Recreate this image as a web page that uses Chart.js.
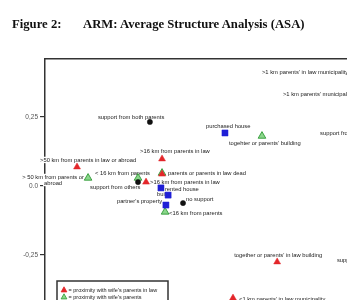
<!DOCTYPE html>
<html>
<head>
<meta charset="utf-8">
<script src="https://cdn.jsdelivr.net/npm/chart.js@4.4.0/dist/chart.umd.min.js"></script>
<style>
  html, body { margin: 0; padding: 0; background: #ffffff; overflow: hidden; }
  #wrap { position: relative; width: 347px; height: 300px; }
  #title { position: absolute; left: 12px; top: 18px; font-family: "Liberation Serif", "Times New Roman", serif; font-weight: bold; font-size: 12.7px; color: #111; white-space: pre; line-height: 1; }
  #title .t2 { position: absolute; left: 71px; top: 0; }
  canvas { position: absolute; left: 0; top: 0; }
</style>
</head>
<body>
<div id="wrap">
  <canvas id="c" width="347" height="300"></canvas>
  <div id="title"><span>Figure 2:</span><span class="t2">ARM: Average Structure Analysis (ASA)</span></div>
</div>
<script>
// ---- Data (dimension 1 = x, dimension 2 = y) ----
const yTickValues = [-0.25, 0, 0.25];
const yTickLabels = ['-0,25', '0.0', '0,25'];

const seriesNames = [
  "proximity with wife's parents in law",
  "proximity with wife's parents",
  "housing",
  "support"
];

// proximity with wife's parents in law (red triangles)
const inLawLabels = [">50 km from parents in law or abroad", ">16 km from parents in law", ">16 km from parents in law",
  "parents or parents in law dead", "together or parents' in law building", "<1 km parents' in law municipality",
  ">1 km parents' in law municipality"];
const inLawX = [-0.384, -0.076, -0.134, -0.076, 0.341, 0.181, 0.659];
const inLawY = [0.069, 0.098, 0.014, 0.043, -0.275, -0.406, 0.395];

// proximity with wife's parents (green triangles)
const parentsLabels = ["togehter or parents' building", "> 50 km from parents or\nabroad", "< 16 km from parents",
  "parents or parents in law dead", "<16 km from parents", ">1 km parents' municipality"];
const parentsX = [0.286, -0.344, -0.163, -0.076, -0.065, 0.659];
const parentsY = [0.181, 0.029, 0.029, 0.047, -0.094, 0.312];

// housing (blue squares)
const housingLabels = ["purchased house", "rented house", "built", "partner's property"];
const housingX = [0.152, -0.080, -0.054, -0.062];
const housingY = [0.192, -0.007, -0.033, -0.069];

// support (black dots)
const supportLabels = ["support from both parents", "support from others", "no support",
  "support from parents in law", "support from parents"];
const supportX = [-0.120, -0.163, 0.0, 0.685, 0.746];
const supportY = [0.232, 0.014, -0.062, 0.174, -0.286];

// ---- Label placement (pixel offsets from the marker: dx, dy, align); null = no label ----
const inLawLabelPos = [[-37, -7, 'left'], [-22, -8, 'left'], [4, 0, 'left'], null, [-43, -7, 'left'], [6, 1, 'left'], [-103, -5, 'left']];
const parentsLabelPos = [[-33, 7, 'left'], [-35, -1, 'center'], [-43, -5, 'left'], [6, 0, 'left'], [4, 1, 'left'], [-82, -5, 'left']];
const housingLabelPos = [[-19, -7, 'left'], [4, 1, 'left'], [-11, -1, 'left'], [-49, -4, 'left']];
const supportLabelPos = [[-52, -5, 'left'], [-48, 5, 'left'], [3, -4, 'left'], [-52, -5, 'left'], [-52, -5, 'left']];

const toPoints = (xs, ys) => xs.map((x, i) => ({ x: x, y: ys[i] }));

const LABEL_FONT = '5.8px "Liberation Sans", Arial, sans-serif';

const labelPlugin = {
  id: 'pointLabels',
  beforeDatasetsDraw(chart) {
    const ctx = chart.ctx;
    ctx.save();
    ctx.font = LABEL_FONT;
    ctx.textBaseline = 'middle';
    chart.data.datasets.forEach((ds, di) => {
      const meta = chart.getDatasetMeta(di);
      ds.pointLabels.forEach((txt, i) => {
        const pos = ds.labelPos[i];
        if (!pos) return;
        const el = meta.data[i];
        const lines = txt.split('\n');
        lines.forEach((line, li) => {
          const w = ctx.measureText(line).width;
          let x = el.x + pos[0];
          const y = el.y + pos[1] + li * 6;
          if (pos[2] === 'center') x = x - w / 2;
          ctx.fillStyle = '#ffffff';
          ctx.fillRect(x - 1, y - 3.2, w + 2, 6.4);
          ctx.fillStyle = '#1a1a1a';
          ctx.textAlign = 'left';
          ctx.fillText(line, x, y);
        });
      });
    });
    ctx.restore();
  }
};

function drawMarker(ctx, ds, x, y, s) {
  ctx.save();
  ctx.fillStyle = ds.pointBackgroundColor;
  ctx.strokeStyle = ds.pointBorderColor;
  ctx.lineWidth = 0.8;
  ctx.beginPath();
  if (ds.pointStyle === 'triangle') {
    ctx.moveTo(x, y - s);
    ctx.lineTo(x + s * 0.9, y + s * 0.6);
    ctx.lineTo(x - s * 0.9, y + s * 0.6);
    ctx.closePath();
  } else if (ds.pointStyle === 'rect') {
    ctx.rect(x - s * 0.7, y - s * 0.7, s * 1.4, s * 1.4);
  } else {
    ctx.arc(x, y, s * 0.6, 0, Math.PI * 2);
  }
  ctx.fill();
  ctx.stroke();
  ctx.restore();
}

const legendBoxPlugin = {
  id: 'legendBox',
  afterDraw(chart) {
    const ctx = chart.ctx;
    const left = 57, top = 281, right = 168;
    ctx.save();
    ctx.fillStyle = '#ffffff';
    ctx.fillRect(left, top, right - left, 40);
    ctx.strokeStyle = '#333333';
    ctx.lineWidth = 1.5;
    ctx.strokeRect(left, top, right - left, 40);
    ctx.font = '5.5px "Liberation Sans", Arial, sans-serif';
    ctx.textBaseline = 'middle';
    ctx.textAlign = 'left';
    chart.data.datasets.forEach((ds, i) => {
      if (ds.legendHidden) return;
      const y = top + 9 + ds.legendRow * 7;
      drawMarker(ctx, ds, 64, y, 3.2);
      ctx.fillStyle = '#1a1a1a';
      ctx.fillText('= ' + ds.label, 68.5, y);
    });
    ctx.restore();
  }
};

const RED = '#e3262a', GREEN_FILL = '#8ad68a', GREEN_LINE = '#2f9a36', BLUE = '#1f1fd6', BLACK = '#111111';

const datasets = [
  { label: seriesNames[1], data: toPoints(parentsX, parentsY), pointLabels: parentsLabels, labelPos: parentsLabelPos,
    pointStyle: 'triangle', pointRadius: 4.4, pointBackgroundColor: GREEN_FILL, pointBorderColor: GREEN_LINE, pointBorderWidth: 0.9, legendRow: 1, order: 3 },
  { label: seriesNames[0], data: toPoints(inLawX, inLawY), pointLabels: inLawLabels, labelPos: inLawLabelPos,
    pointStyle: 'triangle', pointRadius: 4, pointBackgroundColor: RED, pointBorderColor: RED, pointBorderWidth: 0.5, legendRow: 0, order: 2 },
  { label: seriesNames[2], data: toPoints(housingX, housingY), pointLabels: housingLabels, labelPos: housingLabelPos,
    pointStyle: 'rect', pointRadius: 4.3, pointBackgroundColor: BLUE, pointBorderColor: BLUE, pointBorderWidth: 0.5, legendRow: 2, order: 1 },
  { label: seriesNames[3], data: toPoints(supportX, supportY), pointLabels: supportLabels, labelPos: supportLabelPos,
    pointStyle: 'circle', pointRadius: 2.6, pointBackgroundColor: BLACK, pointBorderColor: BLACK, pointBorderWidth: 0.5, legendRow: 3, order: 0 }
];
datasets.forEach(d => { d.clip = false; d.pointHoverRadius = d.pointRadius; d.showLine = false; });

function zeroPad(s) { s.paddingTop = 0; s.paddingBottom = 0; s.paddingLeft = 0; s.paddingRight = 0; }

new Chart(document.getElementById('c'), {
  type: 'scatter',
  data: { datasets: datasets },
  options: {
    responsive: false,
    animation: false,
    events: [],
    layout: { padding: 0, autoPadding: false },
    plugins: { legend: { display: false }, tooltip: { enabled: false }, title: { display: false } },
    scales: {
      x: {
        type: 'linear', position: 'top', min: -0.5, max: 0.594,
        ticks: { display: false },
        grid: { display: false },
        border: { display: true, color: '#333333', width: 1.5 },
        afterFit(s) { s.height = 59; zeroPad(s); }
      },
      y: {
        type: 'linear', position: 'left', min: -0.413, max: 0.46,
        afterBuildTicks(s) { s.ticks = yTickValues.map(v => ({ value: v })); },
        ticks: {
          callback(v) { const i = yTickValues.indexOf(v); return i >= 0 ? yTickLabels[i] : ''; },
          font: { family: '"Liberation Sans", Arial, sans-serif', size: 6.5 },
          color: '#555555', padding: 2
        },
        grid: { display: true, drawOnChartArea: false, drawTicks: true, tickLength: 5, color: '#333333', lineWidth: 1.2 },
        border: { display: true, color: '#333333', width: 1.5 },
        afterFit(s) { s.width = 45; zeroPad(s); }
      }
    }
  },
  plugins: [labelPlugin, legendBoxPlugin]
});
</script>
</body>
</html>
